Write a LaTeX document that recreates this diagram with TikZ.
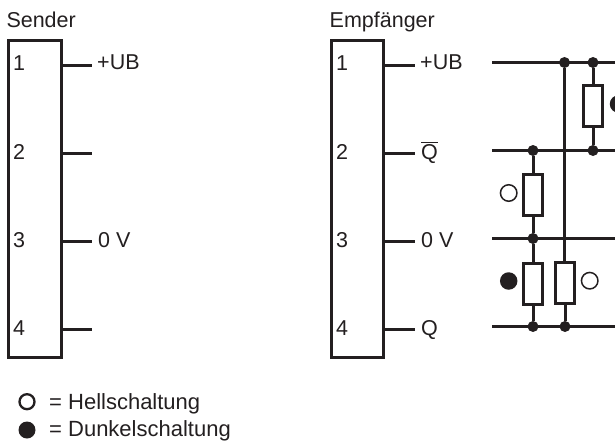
\documentclass[tikz,border=0pt]{standalone}
\usepackage{fontspec}
\setmainfont{Liberation Sans}
\tikzset{
  main box/.style={rectangle,draw=ink,line width=3pt,inner sep=0pt,minimum width=#1,minimum height=317pt},
  res box/.style={rectangle,draw=ink,fill=white,line width=3pt,inner sep=0pt,minimum width=19pt,minimum height=41pt},
  dot node/.style={circle,fill=ink,inner sep=0pt,minimum size=11pt},
  open mark/.style={circle,draw=ink,line width=1.5pt,fill=white,inner sep=0pt,minimum size=16.5pt},
  full mark/.style={circle,fill=ink,inner sep=0pt,minimum size=17.5pt},
  txt/.style={inner sep=0pt,anchor=base west,text=ink,font=\fontsize{21.5}{24}\selectfont},
  wire/.style={draw=ink,line width=3pt}
}
\definecolor{ink}{HTML}{231F20}
\begin{document}
\begin{tikzpicture}[x=1pt,y=-1pt]
        \useasboundingbox (0,0) rectangle (615,441);
        % sender
        \node[main box=53pt] at (35, 199) (sbox) {};
        \node[txt] at (6.3, 28) (stitle) {Sender};
        \node[txt] at (13, 71) (s1) {1};
        \node[txt] at (13, 159) (s2) {2};
        \node[txt] at (13, 247) (s3) {3};
        \node[txt] at (13, 335.5) (s4) {4};
        \coordinate (sa) at (92, 65.5);
        \coordinate (sb) at (92, 153.5);
        \coordinate (sc) at (92, 241.5);
        \coordinate (sd) at (92, 329.5);
        \node[txt] at (97, 70) (subt) {+UB};
        \node[txt] at (98, 247) (szero) {0 V};

        % receiver
        \node[main box=52pt] at (357.5, 199) (ebox) {};
        \node[txt] at (329.5, 28) (etitle) {Empfänger};
        \node[txt] at (336, 71) (e1) {1};
        \node[txt] at (336, 159) (e2) {2};
        \node[txt] at (336, 247) (e3) {3};
        \node[txt] at (336, 335.5) (e4) {4};
        \coordinate (ea) at (415, 65.5);
        \coordinate (eb) at (415, 153.5);
        \coordinate (ec) at (415, 241.5);
        \coordinate (ed) at (415, 329.5);
        \node[txt] at (420, 70) (eubt) {+UB};
        \node[txt] at (421, 159) (eqbar) {$\overline{\mbox{Q}}$};
        \node[txt] at (421, 247) (ezero) {0 V};
        \node[txt] at (421, 335) (eq) {Q};

        % bus lines
        \coordinate (la) at (492, 62.5);
        \coordinate (lb) at (492, 150.5);
        \coordinate (lc) at (492, 238.5);
        \coordinate (ld) at (492, 326.5);
        \coordinate (ra) at (615, 62.5);
        \coordinate (rb) at (615, 150.5);
        \coordinate (rc) at (615, 238.5);
        \coordinate (rd) at (615, 326.5);
        \node[dot node] at (564.5, 62.5) (ja) {};
        \node[dot node] at (593, 62.5) (jb) {};
        \node[dot node] at (593, 150.5) (jc) {};
        \node[dot node] at (533, 150.5) (jd) {};
        \node[dot node] at (533, 238.5) (je) {};
        \node[dot node] at (533, 326.5) (jf) {};
        \node[dot node] at (565, 326.5) (jg) {};

        % resistors
        \node[res box] at (593, 106) (ra1) {};
        \node[res box] at (533, 195) (ra2) {};
        \node[res box] at (533, 284) (ra3) {};
        \node[res box] at (565, 283) (ra4) {};
        \coordinate (xr) at (564.5, 262);

        \node[full mark] at (618.5, 104) (ma) {};
        \node[open mark] at (508.7, 193) (mb) {};
        \node[full mark] at (508.7, 281) (mc) {};
        \node[open mark] at (589.7, 280.7) (md) {};

        % legend
        \node[open mark,minimum size=15pt,line width=2.3pt] at (27, 401.7) (lo) {};
        \node[full mark,minimum size=17pt] at (27, 430) (lf) {};
        \node[txt,font=\fontsize{22}{24}\selectfont] at (49, 409.5) (lhell) {= Hellschaltung};
        \node[txt,font=\fontsize{22}{24}\selectfont] at (49, 436.2) (ldunk) {= Dunkelschaltung};

        \path[wire]
            (sbox.east |- sa) edge (sa)
            (sbox.east |- sb) edge (sb)
            (sbox.east |- sc) edge (sc)
            (sbox.east |- sd) edge (sd)
            (ebox.east |- ea) edge (ea)
            (ebox.east |- eb) edge (eb)
            (ebox.east |- ec) edge (ec)
            (ebox.east |- ed) edge (ed)
            (la) edge (ra)
            (lb) edge (rb)
            (lc) edge (rc)
            (ld) edge (rd)
            (ja) edge (xr)
            (jb) edge (ra1)
            (ra1) edge (jc)
            (jd) edge (ra2)
            (ra2) edge (je)
            (je) edge (ra3)
            (ra3) edge (jf)
            (ra4) edge (jg)
            ;
        \end{tikzpicture}
\end{document}
